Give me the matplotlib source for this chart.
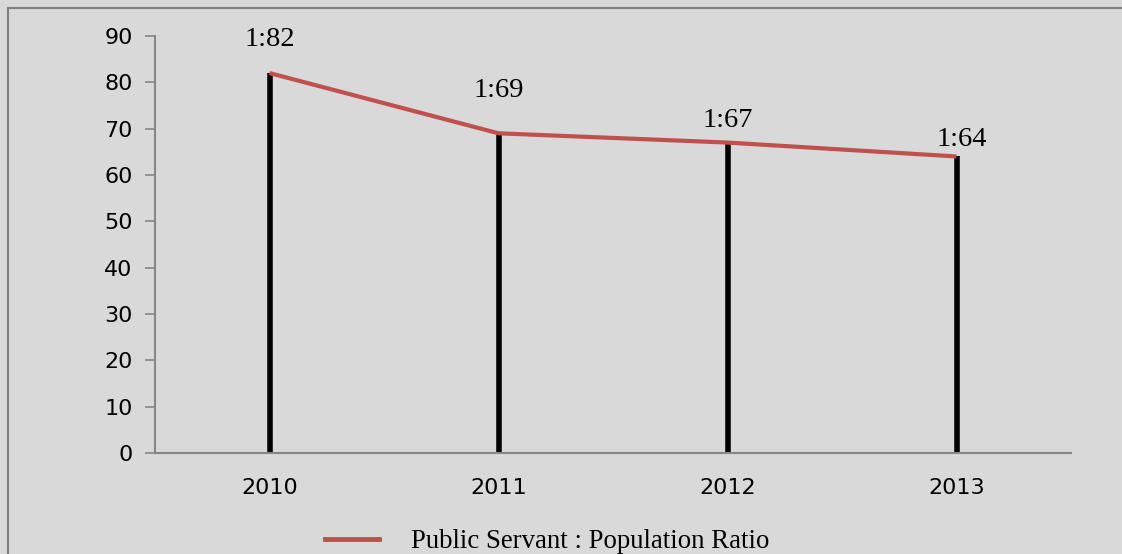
import matplotlib
matplotlib.use("Agg")
import matplotlib.pyplot as plt
from matplotlib.patches import Rectangle
from matplotlib.lines import Line2D

years = ["2010", "2011", "2012", "2013"]
values = [82, 69, 67, 64]
labels = ["1:82", "1:69", "1:67", "1:64"]
series_name = "Public Servant : Population Ratio"
yticks = [0, 10, 20, 30, 40, 50, 60, 70, 80, 90]

# label offsets (points) above each point
label_offsets = [(0, 24), (0, 31), (0, 16), (4, 12)]

bg = "#d9d9d9"
red = "#c0504d"
grey = "#868686"

fig = plt.figure(figsize=(11.22, 5.54), dpi=100, facecolor=bg)
ax = fig.add_axes([155/1122, 1-453/554, (1071-155)/1122, (453-36)/554])
ax.set_facecolor(bg)

x = list(range(len(years)))
ax.vlines(x, 0, values, colors="black", linewidth=4.0, zorder=2)
ax.plot(x, values, color=red, linewidth=3, zorder=3, solid_capstyle="butt")

serif = ["Liberation Serif", "DejaVu Serif"]
for xi, v, lab, off in zip(x, values, labels, label_offsets):
    ax.annotate(lab, (xi, v), xytext=off, textcoords="offset points",
                ha="center", va="center", fontsize=20.5, family=serif)

ax.set_xlim(-0.5, len(years) - 0.5)
ax.set_ylim(0, 90)
ax.set_yticks(yticks)
ax.set_xticks(x)
ax.set_xticklabels(years)

for s in ["top", "right"]:
    ax.spines[s].set_visible(False)
for s in ["left", "bottom"]:
    ax.spines[s].set_color(grey)
    ax.spines[s].set_linewidth(1.5)

ax.tick_params(axis="y", direction="out", length=7, width=1.2, color=grey,
               labelsize=16, pad=9, labelcolor="black")
ax.tick_params(axis="x", length=0, labelsize=16, pad=18, labelcolor="black")
for t in ax.get_xticklabels() + ax.get_yticklabels():
    t.set_family("DejaVu Sans")

handle = Line2D([0], [0], color=red, linewidth=3.5)
fig.legend([handle], [series_name], loc="center", bbox_to_anchor=(0.488, 0.022),
           frameon=False, handlelength=2.0, handletextpad=1.2,
           prop={"family": serif, "size": 19.3})

fig.patches.append(Rectangle((8/1122, -0.1), 2.0, 0.1 + 1 - 8.5/554,
                             transform=fig.transFigure, fill=False,
                             edgecolor="#808080", linewidth=1.5))

fig.savefig("out.png", dpi=100, facecolor=bg)
